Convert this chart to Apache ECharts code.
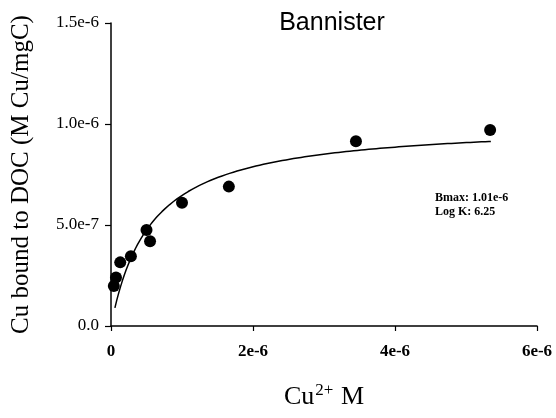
<!DOCTYPE html>
<html>
<head>
<meta charset="utf-8">
<script src="https://cdn.jsdelivr.net/npm/echarts@6/dist/echarts.min.js"></script>
<style>
  html, body { margin: 0; padding: 0; background: #fff; }
  #chart { width: 556px; height: 418px; }
</style>
</head>
<body>
<div id="chart"></div>
<script>
// Free Cu2+ concentration (M) and Cu bound to DOC (M Cu/mgC)
const cuFree  = [0.04e-6, 0.07e-6, 0.13e-6, 0.28e-6, 0.50e-6, 0.55e-6, 1.00e-6, 1.66e-6, 3.45e-6, 5.34e-6];
const cuBound = [0.198e-6, 0.240e-6, 0.315e-6, 0.345e-6, 0.475e-6, 0.420e-6, 0.610e-6, 0.690e-6, 0.915e-6, 0.970e-6];

// Langmuir fit parameters
const bmax = 1.01e-6;
const logK = 6.25;
const fitRange = [0.055e-6, 5.35e-6];

const xTicks = ['0', '2e-6', '4e-6', '6e-6'];
const yTicks = ['0.0', '5.0e-7', '1.0e-6', '1.5e-6'];

// Fitted binding curve B = Bmax*K*x / (1 + K*x)
const K = Math.pow(10, logK);
const fitLine = [];
const steps = 200;
for (let i = 0; i <= steps; i++) {
  const x = fitRange[0] + (fitRange[1] - fitRange[0]) * i / steps;
  fitLine.push([x, bmax * K * x / (1 + K * x)]);
}

const serif = '"Liberation Serif", "DejaVu Serif", serif';
const chart = echarts.init(document.getElementById('chart'));
chart.setOption({
  animation: false,
  backgroundColor: '#fff',
  title: {
    text: 'Bannister',
    left: 327, top: 6, textAlign: 'center',
    textStyle: { fontFamily: '"Liberation Sans", Arial, sans-serif', fontSize: 25, fontWeight: 'normal', color: '#000' }
  },
  grid: { left: 111, right: 19, top: 23, bottom: 92 },
  xAxis: {
    type: 'value', min: 0, max: 6e-6, interval: 2e-6,
    axisLine: { lineStyle: { color: '#000', width: 1.5 } },
    axisTick: { inside: false, length: 5, lineStyle: { color: '#000', width: 1.2 } },
    splitLine: { show: false },
    axisLabel: {
      margin: 17, color: '#000', fontFamily: serif, fontSize: 17, fontWeight: 'bold',
      formatter: (v) => xTicks[Math.round(v / 2e-6)]
    },
    name: '{a|Cu}{b|2+}{a| M}',
    nameLocation: 'middle', nameGap: 56,
    nameTextStyle: {
      rich: {
        a: { fontFamily: serif, fontSize: 26, color: '#000' },
        b: { fontFamily: serif, fontSize: 17, color: '#000', padding: [0, 1, 13, 1] }
      }
    }
  },
  yAxis: {
    type: 'value', min: 0, max: 1.5e-6, interval: 0.5e-6,
    axisLine: { show: true, lineStyle: { color: '#000', width: 1.5 } },
    axisTick: { show: true, inside: false, length: 6, lineStyle: { color: '#000', width: 1.2 } },
    splitLine: { show: false },
    axisLabel: {
      margin: 12, color: '#000', fontFamily: serif, fontSize: 17,
      formatter: (v) => yTicks[Math.round(v / 0.5e-6)]
    },
    name: 'Cu bound to DOC (M Cu/mgC)',
    nameLocation: 'middle', nameGap: 77, nameRotate: 90,
    nameTextStyle: { fontFamily: serif, fontSize: 25, color: '#000' }
  },
  graphic: [{
    type: 'text', left: 435, top: 191,
    style: {
      text: 'Bmax: ' + bmax.toExponential(2) + '\nLog K: ' + logK.toFixed(2),
      font: 'bold 12px ' + serif, fill: '#000', lineHeight: 14
    }
  }],
  series: [
    {
      type: 'line', data: fitLine, showSymbol: false, smooth: false,
      lineStyle: { color: '#000', width: 1.5 }, z: 2
    },
    {
      type: 'scatter', data: cuFree.map((x, i) => [x, cuBound[i]]),
      symbol: 'circle', symbolSize: 12,
      itemStyle: { color: '#000', opacity: 1 }, z: 3
    }
  ]
});
</script>
</body>
</html>
